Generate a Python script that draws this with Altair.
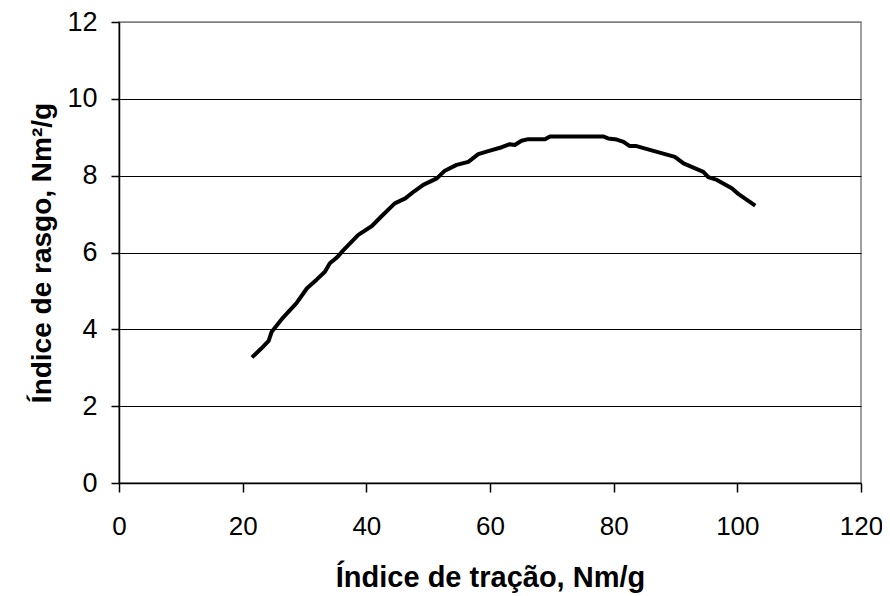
import altair as alt
import pandas as pd

x_vals = [21.5, 23.0, 24.2, 24.7, 26.5, 28.7, 30.4, 32.0, 33.3, 34.1, 35.3, 36.3,
          38.7, 40.9, 42.5, 44.6, 46.3, 47.8, 49.2, 51.4, 52.7, 54.6, 56.5, 58.1,
          60.0, 61.9, 63.2, 64.0, 65.1, 66.2, 68.9, 69.7, 78.3, 79.1, 80.5, 81.6,
          82.6, 83.7, 87.0, 89.9, 91.3, 94.5, 95.3, 96.7, 99.1, 100.2, 102.9]
y_vals = [3.27, 3.50, 3.70, 3.94, 4.30, 4.68, 5.07, 5.30, 5.50, 5.72, 5.88, 6.06,
          6.46, 6.69, 6.95, 7.28, 7.41, 7.60, 7.76, 7.93, 8.13, 8.28, 8.36, 8.56,
          8.65, 8.74, 8.82, 8.80, 8.91, 8.95, 8.95, 9.02, 9.02, 8.97, 8.94, 8.88,
          8.77, 8.77, 8.62, 8.49, 8.32, 8.10, 7.96, 7.89, 7.67, 7.52, 7.22]
x_ticks = [0, 20, 40, 60, 80, 100, 120]
y_ticks = [0, 2, 4, 6, 8, 10, 12]

df = pd.DataFrame({"x": x_vals, "y": y_vals, "order": range(len(x_vals))})

FONT = "Liberation Sans"

chart = alt.Chart(df).mark_line(color="black", strokeWidth=4, strokeJoin="round").encode(
    x=alt.X("x:Q", scale=alt.Scale(domain=[0, 120], nice=False),
            axis=alt.Axis(values=x_ticks, title="Índice de tração, Nm/g", grid=False,
                          domainColor="black", tickColor="black", tickSize=9,
                          labelFontSize=26, labelPadding=21, labelColor="black",
                          labelFlush=False, labelOverlap=False,
                          titleFontSize=29, titleFontWeight="bold", titleColor="black",
                          titlePadding=24, labelFont=FONT, titleFont=FONT)),
    y=alt.Y("y:Q", scale=alt.Scale(domain=[0, 12], nice=False),
            axis=alt.Axis(values=y_ticks, title="Índice de rasgo, Nm²/g", grid=True,
                          gridColor=alt.condition("datum.value == 12", alt.value("#808080"), alt.value("black")),
                          gridWidth=1.2,
                          domainColor="black", tickColor="black", tickSize=8,
                          labelFontSize=27, labelPadding=14, labelColor="black",
                          labelFlush=False, labelOverlap=False,
                          titleFontSize=28, titleFontWeight="bold", titleColor="black",
                          titlePadding=10, labelFont=FONT, titleFont=FONT)),
    order="order:Q",
).properties(
    width=742, height=461,
    autosize=alt.AutoSizeParams(type="none"),
    padding={"left": 111, "top": 14, "right": 21, "bottom": 110},
).configure_view(stroke="#808080", strokeWidth=1.5).configure_axis(domainWidth=1.5, tickWidth=1.5)

chart.save("out.html", embed_options={"renderer": "svg", "actions": False})
